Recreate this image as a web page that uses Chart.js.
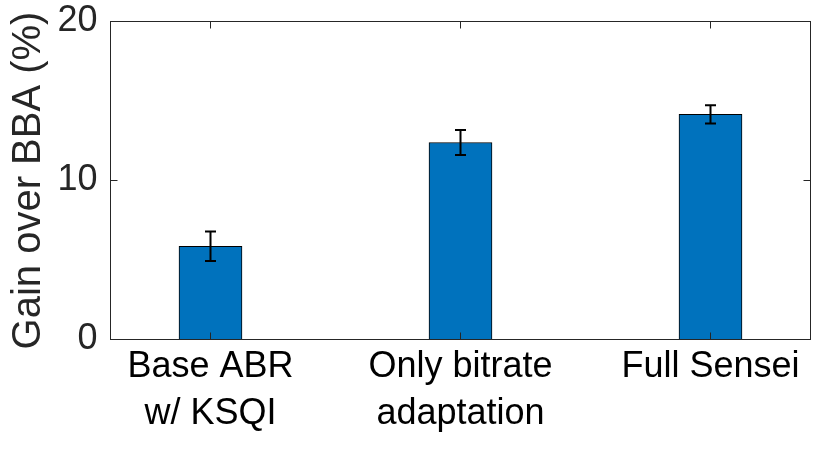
<!DOCTYPE html>
<html>
<head>
<meta charset="utf-8">
<script src="https://cdn.jsdelivr.net/npm/chart.js@4/dist/chart.umd.min.js"></script>
<style>
html,body{margin:0;padding:0;background:#fff;}
#wrap{width:831px;height:459px;}
</style>
</head>
<body>
<div id="wrap"><canvas id="c" width="831" height="459"></canvas></div>
<script>
const categories = [["Base ABR","w/ KSQI"],["Only bitrate","adaptation"],["Full Sensei"]];
const gains = [5.86, 12.39, 14.16];
const errors = [0.93, 0.79, 0.58];
const yTicks = [0, 10, 20];
const yTitle = "Gain over BBA (%)";

const AXIS_COLOR = '#262626';
const FONT = "'Liberation Sans', Arial, Helvetica, sans-serif";

const boxPlugin = {
  id: 'matlabBox',
  afterDatasetsDraw(chart) {
    const {ctx, chartArea: a, scales} = chart;
    const xs = scales.x, ys = scales.y;
    ctx.save();
    // error bars
    ctx.strokeStyle = '#000';
    ctx.lineWidth = 2;
    const cap = 5.5;
    gains.forEach((g, i) => {
      const px = xs.getPixelForValue(i + 1);
      const top = ys.getPixelForValue(g + errors[i]);
      const bot = ys.getPixelForValue(g - errors[i]);
      ctx.beginPath();
      ctx.moveTo(px, top); ctx.lineTo(px, bot);
      ctx.moveTo(px - cap, top); ctx.lineTo(px + cap, top);
      ctx.moveTo(px - cap, bot); ctx.lineTo(px + cap, bot);
      ctx.stroke();
    });
    // box
    ctx.strokeStyle = AXIS_COLOR;
    ctx.lineWidth = 1;
    ctx.strokeRect(a.left, a.top, a.right - a.left, a.bottom - a.top);
    // inward ticks
    const tl = 7;
    ctx.beginPath();
    yTicks.forEach(v => {
      const py = ys.getPixelForValue(v);
      ctx.moveTo(a.left, py); ctx.lineTo(a.left + tl, py);
      ctx.moveTo(a.right, py); ctx.lineTo(a.right - tl, py);
    });
    categories.forEach((c, i) => {
      const px = xs.getPixelForValue(i + 1);
      ctx.moveTo(px, a.bottom); ctx.lineTo(px, a.bottom - tl);
      ctx.moveTo(px, a.top); ctx.lineTo(px, a.top + tl);
    });
    ctx.stroke();
    ctx.restore();
  }
};

new Chart(document.getElementById('c'), {
  type: 'bar',
  data: {
    datasets: [{
      data: gains.map((g, i) => ({x: i + 1, y: g})),
      backgroundColor: '#0072BD',
      borderColor: '#000000',
      borderWidth: 1,
      barThickness: 63
    }]
  },
  options: {
    responsive: false,
    animation: false,
    devicePixelRatio: 1,
    layout: {padding: {top: 21.5, right: 20.5, left: 0, bottom: 0}},
    plugins: {legend: {display: false}, tooltip: {enabled: false}},
    scales: {
      x: {
        type: 'linear',
        min: 0.6,
        max: 3.4,
        offset: false,
        grid: {display: false, drawTicks: false},
        border: {display: false},
        afterBuildTicks(s) { s.ticks = categories.map((c, i) => ({value: i + 1})); },
        afterFit(s) { s.height = 119.5; s.paddingLeft = 0; s.paddingRight = 0; },
        ticks: {
          autoSkip: false,
          maxRotation: 0,
          padding: 4,
          color: '#000',
          font: {family: FONT, size: 36, lineHeight: 1.31},
          callback: (v) => categories[v - 1]
        }
      },
      y: {
        min: 0,
        max: 20,
        grid: {display: false, drawTicks: false},
        border: {display: false},
        afterBuildTicks(s) { s.ticks = yTicks.map(v => ({value: v})); },
        afterFit(s) { s.width = 110.5; s.paddingTop = 0; s.paddingBottom = 0; },
        ticks: {
          padding: 13,
          color: '#262626',
          font: {family: FONT, size: 36}
        },
        title: {
          display: true,
          text: yTitle,
          color: '#262626',
          font: {family: FONT, size: 40},
          padding: {top: 5, bottom: 0}
        }
      }
    }
  },
  plugins: [boxPlugin]
});
</script>
</body>
</html>
